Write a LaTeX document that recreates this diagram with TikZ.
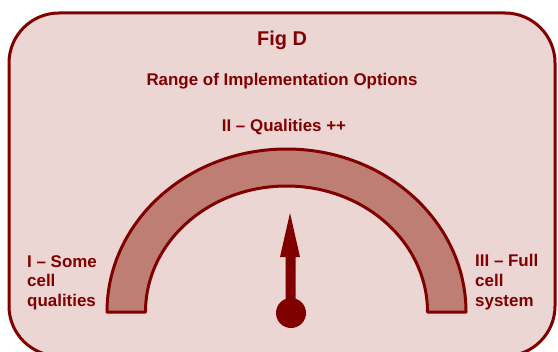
\documentclass[tikz,border=0pt]{standalone}
\usepackage{fontspec}
\setmainfont{Liberation Sans}
\usepackage{xcolor}
\usepackage{tikz}
\usetikzlibrary{positioning}
\definecolor{darkred}{HTML}{800000}
\definecolor{panelpink}{HTML}{EBD6D4}
\definecolor{bandpink}{HTML}{BF7E74}

\begin{document}
\begin{tikzpicture}[x=1bp, y=1bp,
    every node/.style={text=darkred, font=\bfseries\fontsize{17}{20}\selectfont, inner sep=0pt},
    side label/.style={align=left, anchor=north west},
    band/.style={draw=darkred, line width=3bp, fill=bandpink, line join=round},
  ]
  \useasboundingbox (0,0) rectangle (558,351);
  \clip (0,0) rectangle (558,351);

  % panel
  \draw[draw=darkred, fill=panelpink, line width=3bp, rounded corners=50bp]
    (9,-5) rectangle (555,338);

  % titles
  \node[font=\bfseries\fontsize{20}{22}\selectfont] (fig) at (282,311) {Fig D};
  \node (range) at (282,270) {Range of Implementation Options};
  \node (mid) at (284,224) {II -- Qualities ++};

  % gauge band
  \draw[band] (107,39) arc[start angle=180, end angle=0, x radius=179.5, y radius=163]
    -- (427.5,39) arc[start angle=0, end angle=180, x radius=141, y radius=126] -- cycle;

  % needle
  \coordinate (hub) at (291,38);
  \fill[darkred] (hub) circle (15);
  \fill[darkred] (285.5,40) -- (285.5,94) -- (280,94) -- (290,138)
    -- (300,94) -- (295.5,94) -- (295.5,40) -- cycle;

  % ends
  \node[side label] (low) at (27,96) {I -- Some\\cell\\qualities};
  \node[side label] (high) at (475,97) {III -- Full\\cell\\system};

\end{tikzpicture}
\end{document}
